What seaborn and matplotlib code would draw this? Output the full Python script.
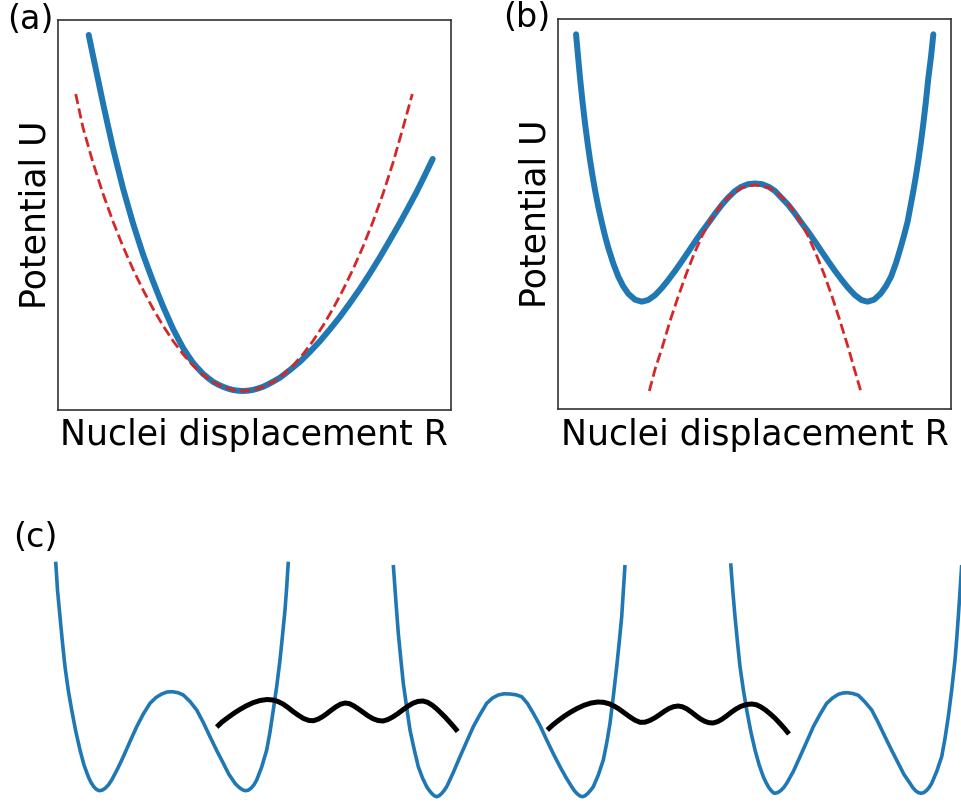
import matplotlib
matplotlib.use("Agg")
import matplotlib.pyplot as plt
import seaborn as sns
import pandas as pd

sns.set_style("white")
plt.rcParams['font.family'] = ['DejaVu Sans']
plt.rcParams['text.color'] = 'black'
plt.rcParams['axes.labelcolor'] = 'black'

BLUE = "#1f77b4"
RED = "#d62728"

# ---------------- Panel (a): anharmonic potential + harmonic approximation
a_R = [88.7, 93, 98, 103, 108, 113, 118, 123, 128, 133, 138, 143, 148, 153, 158, 163, 168,
       173, 178, 183, 188, 193, 198, 203, 208, 213, 218, 223, 228, 233, 238, 243.3, 248,
       253, 258, 263, 268, 273, 280, 290, 300, 310, 320, 330, 340, 350, 360, 370, 380,
       390, 400, 408, 416.7, 424, 432.7]
a_U = [375, 354.2, 330.5, 306.7, 284, 261.7, 241.5, 221.7, 204, 186.7, 171, 155.7, 142,
       128.7, 116, 103.7, 92.4, 81.2, 71.5, 62.2, 54.5, 47.2, 41.5, 36.2, 32, 28.2, 25.5,
       23.2, 21.4, 20, 19.3, 19, 19.3, 20.1, 21.5, 23.2, 25.6, 28.3, 32.3, 40, 48.3, 58.2,
       68.9, 80.8, 93.3, 107, 121.3, 136.7, 152.9, 170, 187.3, 202, 218.2, 233, 251]
a_harm_R = [75.7, 83, 93, 103, 113, 123, 133, 143, 153, 163, 173, 183, 193, 203, 213, 223,
            233, 243, 253, 263, 273, 283, 293, 303, 313, 323, 333, 343, 353, 363, 373, 383,
            393, 403, 412.3]
a_harm_U = [316, 282.2, 247.2, 216.2, 188.4, 163.4, 140.7, 120.1, 101.3, 84.3, 69.1, 55.8,
            44.5, 35.2, 28, 23, 20, 19, 20, 23, 28, 35.2, 44.5, 55.8, 69.1, 84.3, 101.3,
            120.1, 140.7, 163.4, 188.4, 216.2, 247.2, 282.2, 316]

# ---------------- Panel (b): double well + inverted parabola
b_R = [576, 578, 580, 582.5, 585, 587.5, 590, 592.5, 595, 598, 601.7, 605, 608.3, 613,
       618.3, 623, 628.3, 635, 641.7, 648, 655, 662, 668.3, 675, 681.7, 688, 695, 701.7,
       708.3, 715, 721.7, 728, 735, 741, 748, 755, 762, 769, 775, 781.3, 788.3, 795,
       801.7, 808.3, 815, 822, 828.3, 835, 841.7, 848, 855, 861.5, 867.5, 874, 880.5,
       886, 891, 896, 900.5, 904, 907.5, 910.5, 913.3, 915.8, 918.3, 920.8, 923.3,
       925.8, 928.3, 931, 933.3]
b_U = [375.7, 353.5, 332, 308, 286.5, 267.3, 249.8, 234.2, 219.8, 204.3, 187.7, 174, 162,
       147.2, 133.3, 124, 116.2, 110.3, 108.3, 109.9, 114.8, 122.2, 130.1, 139, 148.6,
       157.9, 168.3, 178, 186.9, 196.3, 205, 212.3, 219, 223, 225.8, 226.5, 225.8, 223,
       219, 212.3, 205, 196.3, 186.9, 178, 168.3, 157.9, 148.6, 139, 130.1, 122.2, 114.8,
       109.9, 108.3, 110.3, 116.2, 124, 133.3, 147, 162, 174.5, 188, 204, 219, 233.5,
       249.5, 267, 286.5, 308, 332, 353.5, 375.7]
b_harm_R = [649.3, 655, 662, 670, 678, 686, 694, 702, 710, 718, 726, 734, 742, 748, 755,
            762, 768, 776, 784, 792, 800, 808, 816, 824, 832, 840, 848, 854, 860.7]
b_harm_U = [19, 40.6, 62, 89, 113, 135.5, 156, 174, 189, 201, 210.5, 217.5, 222.3, 224.1,
            225, 224.1, 222.5, 218, 211, 201.5, 189, 174, 156, 136, 113.5, 89, 63, 42, 19]

# ---------------- Panel (c): chain of double wells coupled by springs
c_well1_R = [55.7, 57.5, 60, 62.5, 65, 68.3, 71.7, 75.8, 80, 84, 88.3, 91, 93.8, 96.5, 99.3,
             102.3, 105.3, 108.5, 111.7, 117.5, 123.3, 130, 136.7, 143.3, 150, 156, 161.7,
             167, 172.3, 178, 183.3, 190, 196.7, 203.3, 210, 216.7, 223.3, 229, 235, 238,
             240.8, 243.2, 245.7, 248.5, 251.3, 254, 256.7, 261.7, 266.7, 270, 273.3, 276.7,
             280, 282.5, 285, 286.7, 288.3]
c_well1_U = [240.3, 212, 185.3, 159, 135.3, 111.5, 92, 70.5, 52, 37, 25.3, 19.5, 15.3, 12.5,
             11.3, 11.9, 13.8, 17.2, 22, 33, 45.3, 60.5, 75.3, 88, 98.7, 104.5, 108, 110,
             110.3, 109.3, 107, 100.5, 92, 79.5, 65.3, 51.5, 38.7, 27.5, 18.7, 15.6, 13.3,
             11.9, 11.3, 11.9, 14, 17.3, 22, 35, 52, 70, 92, 115.5, 142, 166.5, 192, 215,
             240.3]
c_well2_R = [393.3, 395.8, 398.3, 400.8, 403.3, 406.7, 410, 414.2, 418.3, 422.5, 426.7,
             429.2, 431.7, 434.2, 436.7, 439.2, 441.7, 444.2, 446.7, 453.3, 460, 466.7, 473.3,
             480, 486.7, 492.5, 498.3, 504, 510, 516, 521.7, 527.5, 533.3, 540, 546.7, 553.3,
             560, 566, 571.7, 574.3, 577, 579.7, 582.3, 585, 587.7, 590.5, 593.3, 598.3,
             603.3, 606.7, 610, 613.3, 616.7, 619.2, 621.7, 623.3, 625]
c_well2_U = [237, 202, 168.7, 143, 118.7, 94.5, 72, 52.5, 35.3, 24, 15.3, 11.6, 8.6, 6.3,
             5.3, 6.3, 8.6, 11.6, 15.3, 29.5, 45.3, 60.5, 75.3, 87.5, 98.7, 104, 107, 108.2,
             108, 107.2, 105.3, 98.5, 88.7, 76.5, 62, 48.3, 35.3, 24.5, 15.3, 11.4, 8.4, 6.2,
             5.3, 6.2, 8.5, 11.6, 15.3, 27, 42, 59, 78.7, 105.5, 135.3, 159.5, 185.3, 210.5,
             237]
c_well3_R = [730.7, 732.8, 735, 737.5, 740, 743.3, 746.7, 750.8, 755, 759.2, 763.3, 766,
             768.8, 771.5, 774.3, 777.4, 780.5, 783.6, 786.7, 793.3, 800, 806.7, 813.3, 820,
             826.7, 832.5, 838.3, 843, 847.3, 852.8, 858.3, 865, 871.7, 878.3, 885, 891.7,
             898.3, 904, 910, 912.8, 915.5, 918.3, 921, 923.7, 926.5, 929.1, 931.7, 936.7,
             941.7, 945, 948.3, 951.7, 955, 956.7, 958.3, 960, 961.7]
c_well3_U = [238.7, 211, 185.3, 159.5, 135.3, 112.5, 92, 70.5, 52, 37, 25.3, 19.5, 14.5, 11,
             8.7, 9.3, 11.2, 14.3, 18.7, 30.5, 45.3, 60.3, 75.3, 87.6, 98.7, 104, 107.7, 109,
             109.3, 108.5, 106.7, 100, 92, 79.3, 65.3, 51.6, 38.7, 27.5, 18.7, 14.4, 11.4,
             9.4, 8.7, 9.4, 11.5, 14.5, 18.7, 30.5, 45.3, 63.5, 85.3, 112, 142, 163, 185.3,
             210.5, 237]
c_spring1_R = [216.7, 222, 228, 234, 240, 246, 253, 260, 267, 273, 278, 283, 288, 293, 298,
               303.5, 309, 313.5, 318, 322.5, 327, 331.5, 336, 340.5, 345, 349.5, 354, 358.5,
               363, 368, 373, 378, 383, 388, 393, 398, 403, 408, 413, 418, 423, 427.5, 432,
               436.5, 441, 445.5, 450, 454, 457.7]
c_spring1_U = [75, 80, 84.5, 88.8, 92.6, 96, 99.3, 101.5, 102.5, 102, 100.5, 98, 94.5, 90.5,
               87, 83.5, 81.5, 81.3, 82.8, 85.3, 88.5, 92, 95.2, 97.8, 99, 98.3, 96, 93, 89.8,
               86.2, 83.3, 81.5, 81, 82.5, 85.2, 88.5, 92.3, 95.8, 98.8, 100.6, 101, 99.7, 97,
               93.3, 89, 84.5, 79.5, 75, 70.5]
c_spring2_R = [547.3, 552.5, 558, 564, 570, 577, 584, 591, 598, 603.5, 609, 614, 619, 624.5,
               630, 635, 640, 645, 650, 655, 660, 664.5, 669, 673.5, 678, 682.5, 687, 691.5,
               696, 700.5, 705, 709, 713, 717.5, 722, 726.5, 731, 736, 741, 746.5, 752, 756.5,
               761, 765.5, 770, 775, 780, 784.5, 789]
c_spring2_U = [72, 76.8, 81.2, 85.6, 89.5, 93.5, 96.7, 99, 100, 99.7, 98.3, 96, 93, 89, 85,
               81.8, 79.7, 79.8, 81.6, 84.3, 87.6, 90.8, 93.5, 95.3, 96, 95.2, 93, 89.8, 86.3,
               83, 80.6, 79.3, 79, 80.3, 82.8, 86, 89.5, 93, 95.7, 97.5, 98, 97.2, 95, 92,
               88.3, 83.8, 78.5, 73.5, 68]

LABEL_FS = 25
PANEL_FS = 24

fig = plt.figure(figsize=(9.62, 8.02), dpi=100)

ax_a = fig.add_axes([0.0600, 0.4888, 0.4085, 0.4863])
ax_b = fig.add_axes([0.5804, 0.4897, 0.4082, 0.4866])
ax_c = fig.add_axes([0.0, 0.0, 1.0, 262 / 802])


def line(ax, x, y, **kw):
    df = pd.DataFrame({"R": x, "U": y})
    sns.lineplot(data=df, x="R", y="U", ax=ax, sort=False, estimator=None, **kw)


line(ax_a, a_R, a_U, color=BLUE, linewidth=4.3)
line(ax_a, a_harm_R, a_harm_U, color=RED, linewidth=2.0, linestyle="--")
ax_a.set_xlim(57.7, 450.7)
ax_a.set_ylim(0, 390)

line(ax_b, b_R, b_U, color=BLUE, linewidth=4.3)
line(ax_b, b_harm_R, b_harm_U, color=RED, linewidth=2.0, linestyle="--")
ax_b.set_xlim(558.3, 951)
ax_b.set_ylim(0.7, 391)

for ax in (ax_a, ax_b):
    ax.set_xticks([])
    ax.set_yticks([])
    ax.set_xlabel("Nuclei displacement R", fontsize=LABEL_FS, labelpad=6, color="black")
    ax.set_ylabel("Potential U", fontsize=LABEL_FS, labelpad=4, color="black")
    for s in ax.spines.values():
        s.set_color("#333333")
        s.set_linewidth(1.2)

for R, U in ((c_well1_R, c_well1_U), (c_well2_R, c_well2_U), (c_well3_R, c_well3_U)):
    line(ax_c, R, U, color=BLUE, linewidth=2.6)
for R, U in ((c_spring1_R, c_spring1_U), (c_spring2_R, c_spring2_U)):
    line(ax_c, R, U, color="black", linewidth=3.6)
ax_c.set_xlim(0, 962)
ax_c.set_ylim(0, 262)
ax_c.axis("off")
for l in ax_c.lines:
    l.set_clip_on(False)
    l.set_solid_capstyle("butt")

fig.text(7 / 962, 1 - 3 / 802, "(a)", fontsize=PANEL_FS, va="top", ha="left", color="black")
fig.text(503 / 962, 1 - 1 / 802, "(b)", fontsize=PANEL_FS, va="top", ha="left", color="black")
fig.text(13 / 962, 1 - 521 / 802, "(c)", fontsize=PANEL_FS, va="top", ha="left", color="black")

fig.savefig("out.png", dpi=100)
